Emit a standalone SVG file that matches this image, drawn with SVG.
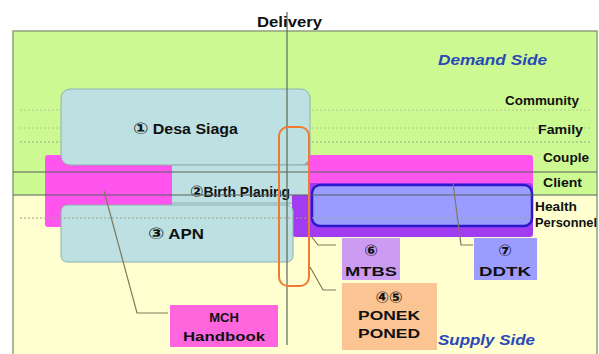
<svg xmlns="http://www.w3.org/2000/svg" width="599" height="354" viewBox="0 0 599 354">
<style>
text{font-family:"Liberation Sans","DejaVu Sans",sans-serif;font-weight:bold;fill:#111}
.lvl{font-size:12px}
.side{font-size:14px;font-style:italic;fill:#2a48b8}
.box{font-size:13px;text-anchor:middle}
.num{font-size:16px}
.blue{fill:#bde0e2;stroke:#8fb0b0;stroke-width:1}
.dot{stroke:#9aa48a;stroke-width:1;stroke-dasharray:2 2;fill:none}
.hl{stroke:#55605a;stroke-width:1}
.call{fill:none;stroke:#7b7a5c;stroke-width:1.2}
</style>
<rect x="0" y="0" width="599" height="354" fill="#ffffff"/>
<g id="background">
<rect x="13" y="31" width="584" height="164" fill="#cdf993"/>
<rect x="13" y="195" width="584" height="159" fill="#ffffcf"/>
<rect x="13" y="31" width="584" height="330" fill="none" stroke="#8fa07a" stroke-width="1.5"/>
<line class="dot" x1="20" y1="110" x2="590" y2="110" opacity="0.6"/>
<line class="dot" x1="20" y1="128" x2="590" y2="128" opacity="0.6"/>
<line class="dot" x1="20" y1="142" x2="590" y2="142" stroke-width="1.5"/>
</g>
<g id="mch-region">
<rect x="45" y="155" width="140" height="72" rx="3" fill="#ff55ee"/>
</g>
<g id="client-region">
<rect x="300" y="155" width="233" height="82" rx="3" fill="#ff55ee"/>
<rect x="292" y="183" width="241" height="54" rx="4" fill="#a23cf0"/>
</g>
<g id="desa-siaga">
<rect class="blue" x="61" y="89" width="249" height="76" rx="9"/>
<text x="133" y="134" font-size="14" textLength="105" lengthAdjust="spacingAndGlyphs"><tspan class="num">①</tspan> Desa Siaga</text>
</g>
<g id="birth-planing">
<path d="M172 165 H310 V195 H292 V205 H172 Z" fill="#bde0e2"/>
<line x1="172" y1="165" x2="310" y2="165" stroke="#8fb0b0"/>
<line x1="172" y1="203" x2="292" y2="203" stroke="#8fb0b0"/>
<text x="190" y="197" font-size="14" textLength="100" lengthAdjust="spacingAndGlyphs"><tspan class="num">②</tspan>Birth Planing</text>
</g>
<g id="apn">
<rect class="blue" x="61" y="205" width="232" height="57" rx="6"/>
<text x="148" y="239" font-size="14" textLength="56" lengthAdjust="spacingAndGlyphs"><tspan class="num">③</tspan> APN</text>
</g>
<g id="health-personnel">
<rect x="312" y="185" width="220" height="41" rx="8" fill="#9a9cff" stroke="#2c18cc" stroke-width="2.5"/>
</g>
<g id="grid">
<line class="hl" x1="13" y1="172" x2="597" y2="172"/>
<line class="hl" x1="13" y1="195" x2="597" y2="195"/>
<line class="dot" x1="20" y1="218" x2="530" y2="218"/>
<line x1="287" y1="12" x2="287" y2="345" stroke="#5a6a5a" stroke-width="1.2"/>
</g>
<g id="delivery-focus">
<rect x="279" y="127" width="30" height="159" rx="9" fill="none" stroke="#f07a30" stroke-width="2"/>
</g>
<g id="connectors">
<polyline class="call" points="104,191 137,313 168,313"/>
<polyline class="call" points="311,236 318,245 336,245"/>
<polyline class="call" points="310,267 323,290 336,290"/>
<polyline class="call" points="453,183 461,245 473,245"/>
</g>
<g id="mtbs">
<rect x="342" y="238" width="58" height="42" fill="#cc9cf2"/>
<text class="box num" x="371" y="256">⑥</text>
<text class="box" x="371" y="276" textLength="52" lengthAdjust="spacingAndGlyphs">MTBS</text>
</g>
<g id="ddtk">
<rect x="474" y="238" width="63" height="42" fill="#9c9cff"/>
<text class="box num" x="505" y="256">⑦</text>
<text class="box" x="505" y="276" textLength="52" lengthAdjust="spacingAndGlyphs">DDTK</text>
</g>
<g id="ponek">
<rect x="342" y="283" width="95" height="67" fill="#fbc493"/>
<text class="box num" x="389" y="303">④⑤</text>
<text class="box" x="389" y="320" textLength="62" lengthAdjust="spacingAndGlyphs">PONEK</text>
<text class="box" x="389" y="338" textLength="62" lengthAdjust="spacingAndGlyphs">PONED</text>
</g>
<g id="mch-handbook">
<rect x="170" y="305" width="108" height="42" fill="#ff66dd"/>
<text class="box" x="224" y="322">MCH</text>
<text class="box" x="224" y="341" textLength="82" lengthAdjust="spacingAndGlyphs">Handbook</text>
</g>
<g id="labels">
<text x="257" y="27" font-size="14" textLength="65" lengthAdjust="spacingAndGlyphs">Delivery</text>
<text class="side" x="438" y="65" textLength="109" lengthAdjust="spacingAndGlyphs">Demand Side</text>
<text class="side" x="438" y="345" textLength="97" lengthAdjust="spacingAndGlyphs">Supply Side</text>
<text class="lvl" x="505" y="105" textLength="74" lengthAdjust="spacingAndGlyphs">Community</text>
<text class="lvl" x="538" y="134" textLength="45" lengthAdjust="spacingAndGlyphs">Family</text>
<text class="lvl" x="543" y="162" textLength="46" lengthAdjust="spacingAndGlyphs">Couple</text>
<text class="lvl" x="543" y="187" textLength="39" lengthAdjust="spacingAndGlyphs">Client</text>
<text class="lvl" x="535" y="211" textLength="42" lengthAdjust="spacingAndGlyphs">Health</text>
<text class="lvl" x="535" y="227" textLength="62" lengthAdjust="spacingAndGlyphs">Personnel</text>
</g>
</svg>
